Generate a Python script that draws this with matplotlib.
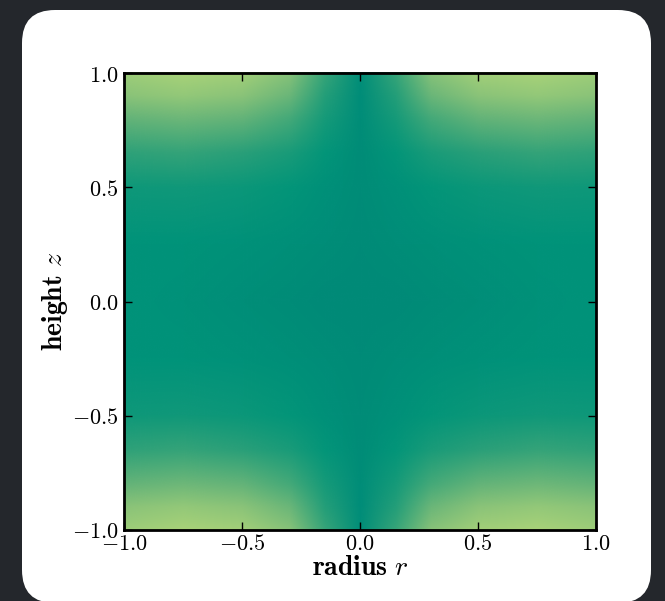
import numpy as np
import matplotlib
matplotlib.use("Agg")
import matplotlib.pyplot as plt
from matplotlib.colors import LinearSegmentedColormap
from matplotlib.image import NonUniformImage
from matplotlib.patches import FancyBboxPatch
from matplotlib.ticker import FuncFormatter

plt.rcParams["mathtext.fontset"] = "cm"
plt.rcParams["font.family"] = ["DejaVu Serif"]

# sample grid (radius r across, height z down the rows from -1 to 1)
radius = [-1.0, -0.75, -0.5, -0.3, -0.15, 0.0, 0.15, 0.3, 0.5, 0.75, 1.0]
height = [-1.0, -0.9, -0.8, -0.65, -0.5, -0.25, 0.0, 0.25, 0.5, 0.65, 0.8, 0.9, 1.0]

field = [
    [0.85, 0.92, 0.88, 0.70, 0.35, 0.05, 0.35, 0.70, 0.88, 0.92, 0.85],
    [0.72, 0.78, 0.72, 0.55, 0.27, 0.04, 0.27, 0.55, 0.72, 0.78, 0.72],
    [0.52, 0.56, 0.52, 0.40, 0.20, 0.04, 0.20, 0.40, 0.52, 0.56, 0.52],
    [0.32, 0.34, 0.30, 0.22, 0.12, 0.03, 0.12, 0.22, 0.30, 0.34, 0.32],
    [0.17, 0.18, 0.16, 0.12, 0.07, 0.03, 0.07, 0.12, 0.16, 0.18, 0.17],
    [0.10, 0.10, 0.08, 0.06, 0.04, 0.02, 0.04, 0.06, 0.08, 0.10, 0.10],
    [0.10, 0.08, 0.05, 0.03, 0.01, 0.00, 0.01, 0.03, 0.05, 0.08, 0.10],
    [0.10, 0.10, 0.08, 0.06, 0.04, 0.02, 0.04, 0.06, 0.08, 0.10, 0.10],
    [0.17, 0.18, 0.16, 0.12, 0.07, 0.03, 0.07, 0.12, 0.16, 0.18, 0.17],
    [0.32, 0.34, 0.30, 0.22, 0.12, 0.03, 0.12, 0.22, 0.30, 0.34, 0.32],
    [0.52, 0.56, 0.52, 0.40, 0.20, 0.04, 0.20, 0.40, 0.52, 0.56, 0.52],
    [0.72, 0.78, 0.72, 0.55, 0.27, 0.04, 0.27, 0.55, 0.72, 0.78, 0.72],
    [0.85, 0.92, 0.88, 0.70, 0.35, 0.05, 0.35, 0.70, 0.88, 0.92, 0.85],
]

ticks = [-1.0, -0.5, 0.0, 0.5, 1.0]

cmap = LinearSegmentedColormap.from_list(
    "tealgreen",
    [(0.0, "#008a77"), (0.1, "#00947a"), (0.3, "#2aa078"),
     (0.6, "#78bb78"), (1.0, "#b4d878")],
)

W, H, DPI = 665, 601, 100
fig = plt.figure(figsize=(W / DPI, H / DPI), dpi=DPI)
fig.patch.set_facecolor("#24272c")

# white rounded card behind the plot (pixel coordinates)
card = FancyBboxPatch((22, -2), 629, 593,
                      boxstyle="round,pad=0,rounding_size=33",
                      facecolor="white", edgecolor="none", transform=None,
                      zorder=-10)
fig.patches.append(card)

ax = fig.add_axes([124 / W, (H - 530) / H, 472 / W, 457 / H])
ax.set_zorder(1)

img = NonUniformImage(ax, interpolation="bilinear", cmap=cmap,
                      extent=(-1, 1, -1, 1))
img.set_data(np.array(radius), np.array(height), np.array(field))
img.set_clim(0, 1)
ax.add_image(img)
ax.set_xlim(-1, 1)
ax.set_ylim(-1, 1)

fmt = FuncFormatter(lambda v, _: f"${v:.1f}$")
ax.set_xticks(ticks)
ax.set_yticks(ticks)
ax.xaxis.set_major_formatter(fmt)
ax.yaxis.set_major_formatter(fmt)
ax.tick_params(direction="in", length=6, width=1, top=True, right=True,
               labelsize=16)
ax.tick_params(axis="x", pad=2)
ax.tick_params(axis="y", pad=4)
for s in ax.spines.values():
    s.set_linewidth(2)

ax.set_xlabel(r"$\mathbf{radius}\ r$", fontsize=20, va="center")
ax.set_ylabel(r"$\mathbf{height}\ z$", fontsize=20, va="center")
ax.xaxis.set_label_coords(0.5, -0.083)
ax.yaxis.set_label_coords(-0.146, 0.5)

fig.savefig("out.png", dpi=DPI, facecolor=fig.get_facecolor())
